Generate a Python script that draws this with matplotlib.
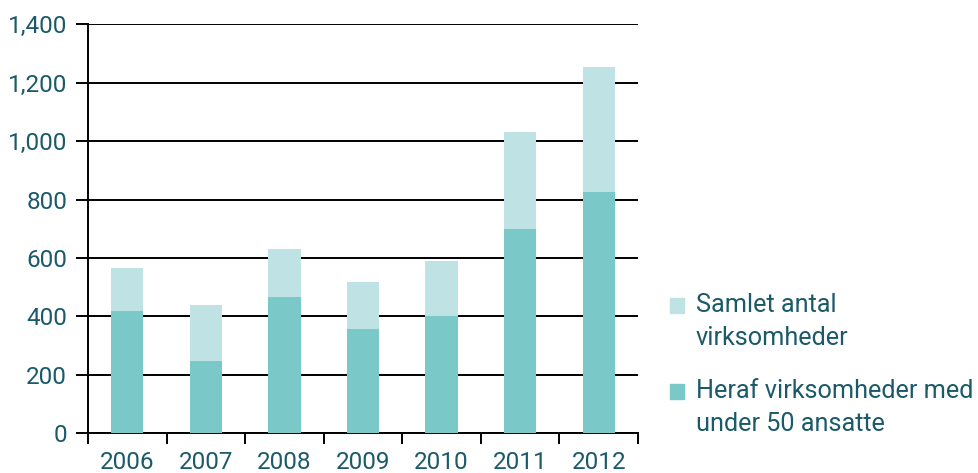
import matplotlib.pyplot as plt
import numpy as np
from matplotlib.patches import Rectangle

years = ["2006", "2007", "2008", "2009", "2010", "2011", "2012"]
total = [567, 440, 632, 519, 591, 1032, 1255]
small = [420, 248, 467, 358, 400, 698, 826]
yticks = [0, 200, 400, 600, 800, 1000, 1200, 1400]

light = "#bfe2e4"
dark = "#7bc8c8"
txt = "#1b5a69"

plt.rcParams["font.family"] = ["Roboto", "DejaVu Sans"]

fig = plt.figure(figsize=(9.79, 4.73), dpi=100)
ax = fig.add_axes([88 / 979, 1 - 433.3 / 473, 550 / 979, 409 / 473])

x = np.arange(len(years))
ax.bar(x, total, width=0.41, color=light, zorder=2)
ax.bar(x, small, width=0.41, color=dark, zorder=3)

ax.set_xlim(-0.5, len(years) - 0.5)
ax.set_ylim(0, 1400)
ax.set_yticks(yticks)
ax.set_yticklabels(["{:,}".format(v) for v in yticks])
ax.yaxis.grid(True, color="black", linewidth=1.4, zorder=1)
ax.set_axisbelow(True)

ax.set_xticks(x)
ax.set_xticklabels(years)
ax.set_xticks(np.arange(len(years) + 1) - 0.5, minor=True)
ax.tick_params(axis="x", which="major", length=0, pad=13, labelsize=17.5,
               labelcolor=txt)
ax.tick_params(axis="x", which="minor", length=8, width=1.4, direction="out")
ax.tick_params(axis="y", length=9, width=1.4, pad=6, labelsize=17.5,
               labelcolor=txt)

for s in ["top", "right"]:
    ax.spines[s].set_visible(False)
for s in ["left", "bottom"]:
    ax.spines[s].set_linewidth(1.4)

# legend drawn by hand so the square sits next to the first line
labels = ["Samlet antal\nvirksomheder", "Heraf virksomheder med\nunder 50 ansatte"]
colors = [light, dark]
tops = [295, 381]
for lab, col, t in zip(labels, colors, tops):
    fig.patches.append(Rectangle((670 / 979, 1 - (t + 18) / 473), 14 / 979,
                                 15 / 473, color=col,
                                 transform=fig.transFigure))
    fig.text(696 / 979, 1 - (t - 2) / 473, lab, fontsize=18.2, color=txt,
             va="top", ha="left", linespacing=1.45)

fig.savefig("out.png", dpi=100)
